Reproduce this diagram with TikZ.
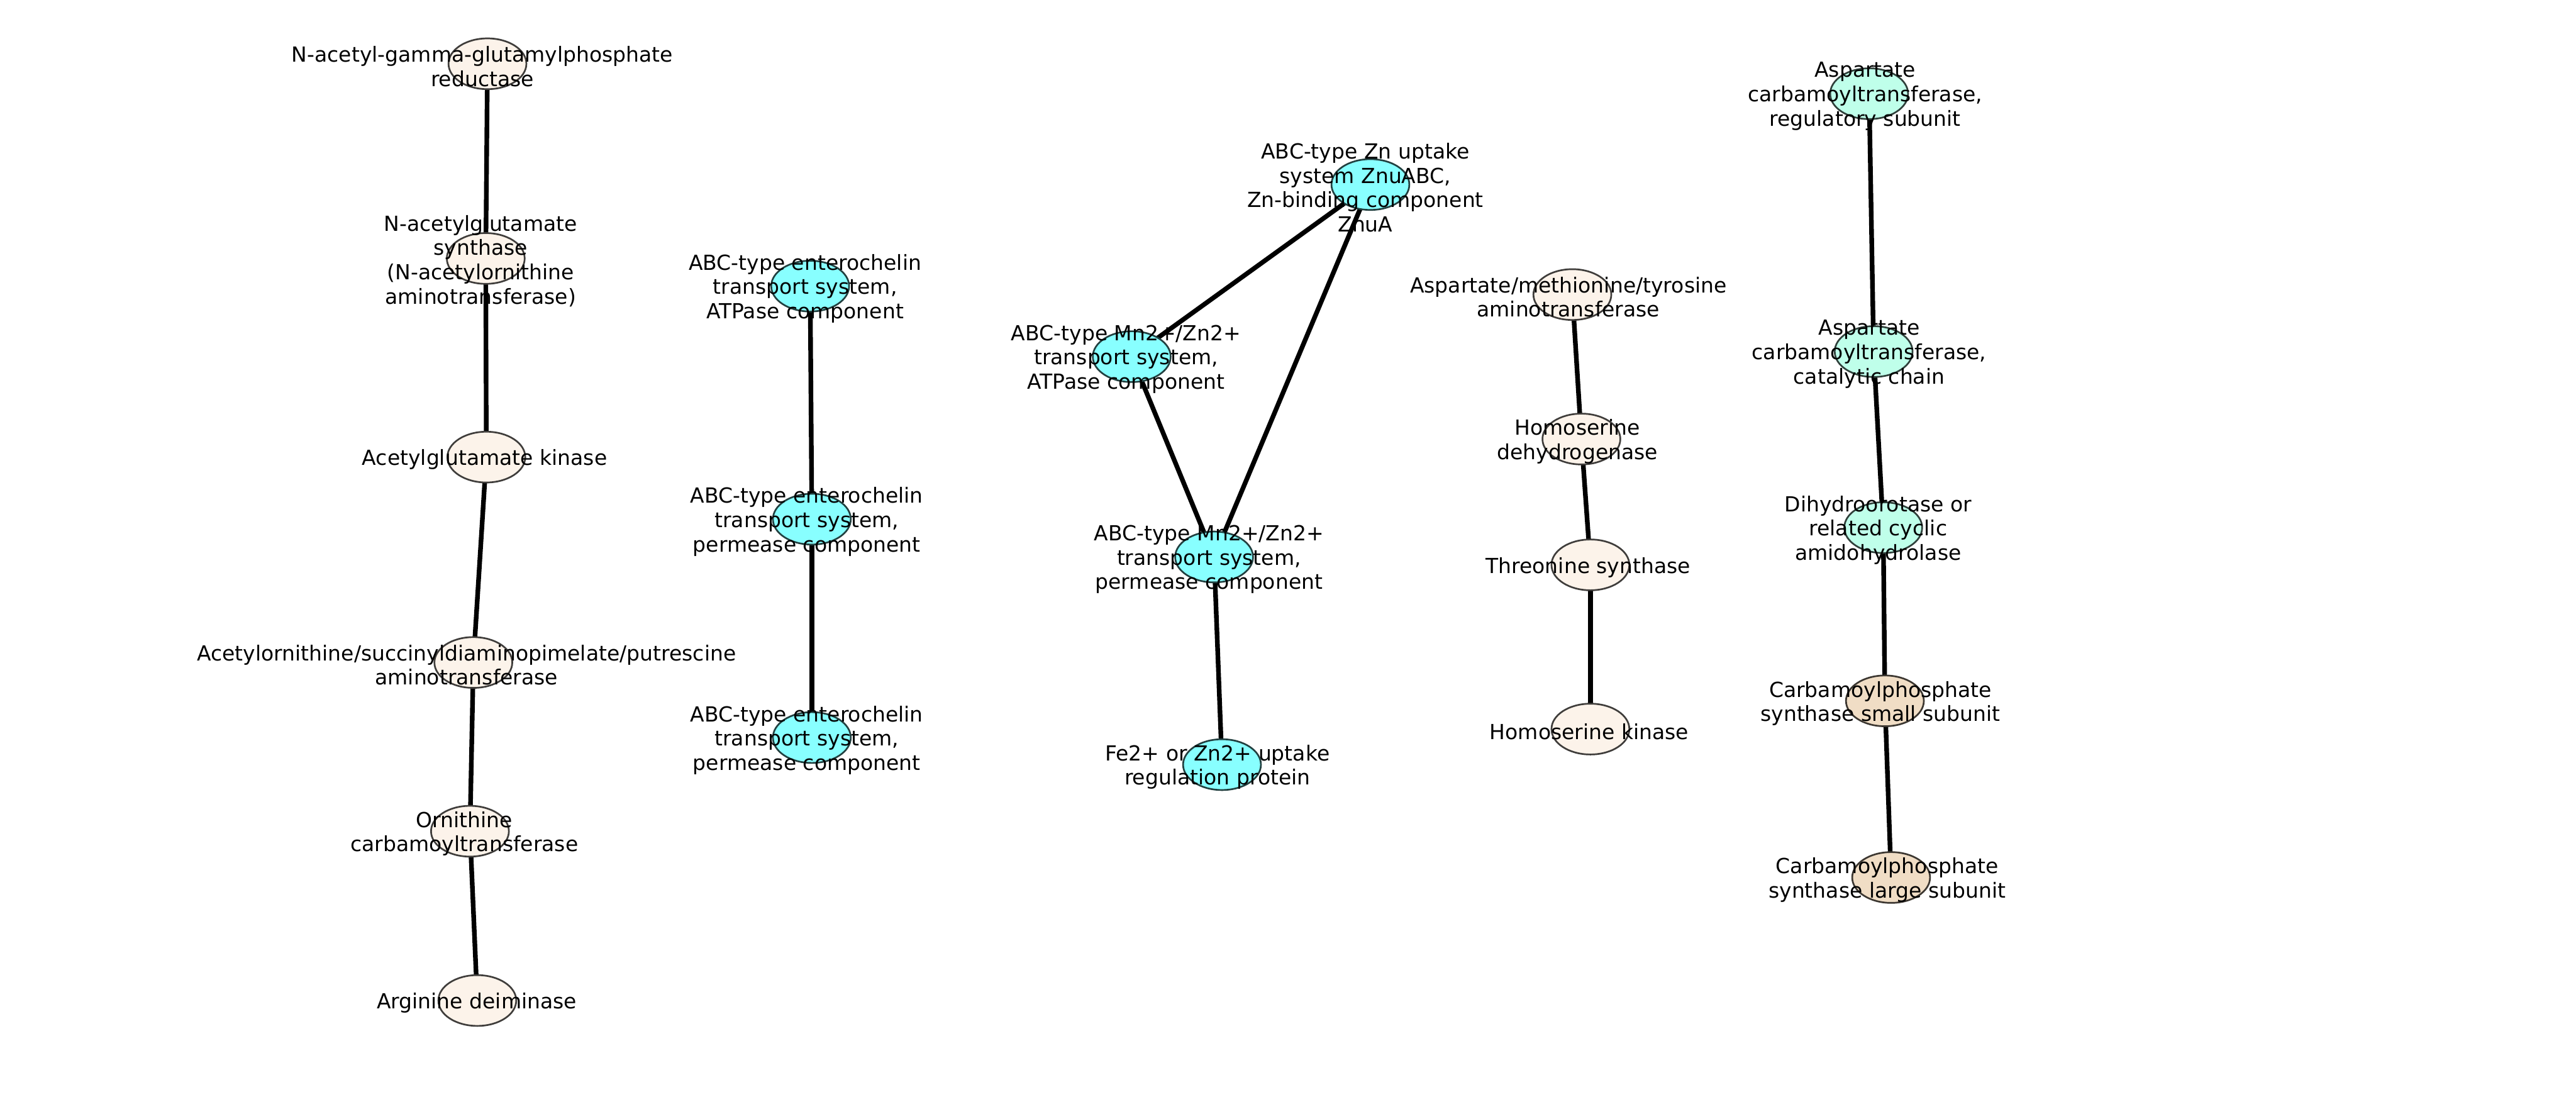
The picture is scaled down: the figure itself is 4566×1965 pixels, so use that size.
\documentclass[tikz,border=0pt]{standalone}
\usepackage{fontspec}
\setmainfont{DejaVu Sans}
\usetikzlibrary{shapes.geometric,backgrounds}
\definecolor{beigefill}{HTML}{FCF3EA}
\definecolor{cyanfill}{HTML}{88FFFF}
\definecolor{mintfill}{HTML}{BFFFEA}
\definecolor{wheatfill}{HTML}{F0DDC5}
\tikzset{
  ell/.style={ellipse, draw=#1!25!black, fill=#1, line width=0.6pt,
    minimum width=27.6pt, minimum height=18pt, inner sep=0pt},
  lab/.style={align=center, inner sep=0pt, yshift=-0.9pt, font=\fontsize{7.36}{8.6}\selectfont},
  link/.style={line width=1.65pt, black}
}
\begin{document}
\begin{tikzpicture}[x=0.2pt,y=-0.2pt]
\useasboundingbox (0,0) rectangle (4566,1965);
% nodes
\node[ell=beigefill] (n1) at (864,113) {};
\node[ell=beigefill] (n2) at (861,458) {};
\node[ell=beigefill] (n3) at (862,810) {};
\node[ell=beigefill] (n4) at (839,1174) {};
\node[ell=beigefill] (n5) at (833,1473) {};
\node[ell=beigefill] (n6) at (846,1773) {};
\node[ell=cyanfill] (n7) at (1436,507) {};
\node[ell=cyanfill] (n8) at (1439,920) {};
\node[ell=cyanfill] (n9) at (1439,1307) {};
\node[ell=cyanfill] (n10) at (2429,327) {};
\node[ell=cyanfill] (n11) at (2006,632) {};
\node[ell=cyanfill] (n12) at (2152,987) {};
\node[ell=cyanfill] (n13) at (2166,1355) {};
\node[ell=beigefill] (n14) at (2787,522) {};
\node[ell=beigefill] (n15) at (2803,778) {};
\node[ell=beigefill] (n16) at (2819,1001) {};
\node[ell=beigefill] (n17) at (2819,1292) {};
\node[ell=mintfill] (n18) at (3313,166) {};
\node[ell=mintfill] (n19) at (3321,623) {};
\node[ell=mintfill] (n20) at (3338,935) {};
\node[ell=wheatfill] (n21) at (3341,1242) {};
\node[ell=wheatfill] (n22) at (3352,1555) {};
% edges
\begin{pgfonlayer}{background}
\draw[link] (n1.center) -- (n2.center);
\draw[link] (n2.center) -- (n3.center);
\draw[link] (n3.center) -- (n4.center);
\draw[link] (n4.center) -- (n5.center);
\draw[link] (n5.center) -- (n6.center);
\draw[link] (n7.center) -- (n8.center);
\draw[link] (n8.center) -- (n9.center);
\draw[link] (n10.center) -- (n11.center);
\draw[link] (n10.center) -- (n12.center);
\draw[link] (n11.center) -- (n12.center);
\draw[link] (n12.center) -- (n13.center);
\draw[link] (n14.center) -- (n15.center);
\draw[link] (n15.center) -- (n16.center);
\draw[link] (n16.center) -- (n17.center);
\draw[link] (n18.center) -- (n19.center);
\draw[link] (n19.center) -- (n20.center);
\draw[link] (n20.center) -- (n21.center);
\draw[link] (n21.center) -- (n22.center);
\end{pgfonlayer}
% labels
\node[lab] (l1) at (855,113) {N-acetyl-gamma-glutamylphosphate\\reductase};
\node[lab] (l2) at (852,458) {N-acetylglutamate\\synthase\\(N-acetylornithine\\aminotransferase)};
\node[lab] (l3) at (859,810) {Acetylglutamate kinase};
\node[lab] (l4) at (827,1174) {Acetylornithine/succinyldiaminopimelate/putrescine\\aminotransferase};
\node[lab] (l5) at (823,1473) {Ornithine\\carbamoyltransferase};
\node[lab] (l6) at (845,1773) {Arginine deiminase};
\node[lab] (l7) at (1427,507) {ABC-type enterochelin\\transport system,\\ATPase component};
\node[lab] (l8) at (1430,920) {ABC-type enterochelin\\transport system,\\permease component};
\node[lab] (l9) at (1430,1307) {ABC-type enterochelin\\transport system,\\permease component};
\node[lab] (l10) at (2420,328) {ABC-type Zn uptake\\system ZnuABC,\\Zn-binding component\\ZnuA};
\node[lab] (l11) at (1996,632) {ABC-type Mn2+/Zn2+\\transport system,\\ATPase component};
\node[lab] (l12) at (2143,987) {ABC-type Mn2+/Zn2+\\transport system,\\permease component};
\node[lab] (l13) at (2158,1355) {Fe2+ or Zn2+ uptake\\regulation protein};
\node[lab] (l14) at (2780,522) {Aspartate/methionine/tyrosine\\aminotransferase};
\node[lab] (l15) at (2796,778) {Homoserine\\dehydrogenase};
\node[lab] (l16) at (2815,1001) {Threonine synthase};
\node[lab] (l17) at (2817,1292) {Homoserine kinase};
\node[lab] (l18) at (3306,166) {Aspartate\\carbamoyltransferase,\\regulatory subunit};
\node[lab] (l19) at (3313,623) {Aspartate\\carbamoyltransferase,\\catalytic chain};
\node[lab] (l20) at (3329,935) {Dihydroorotase or\\related cyclic\\amidohydrolase};
\node[lab] (l21) at (3333,1242) {Carbamoylphosphate\\synthase small subunit};
\node[lab] (l22) at (3345,1555) {Carbamoylphosphate\\synthase large subunit};
\end{tikzpicture}
\end{document}
